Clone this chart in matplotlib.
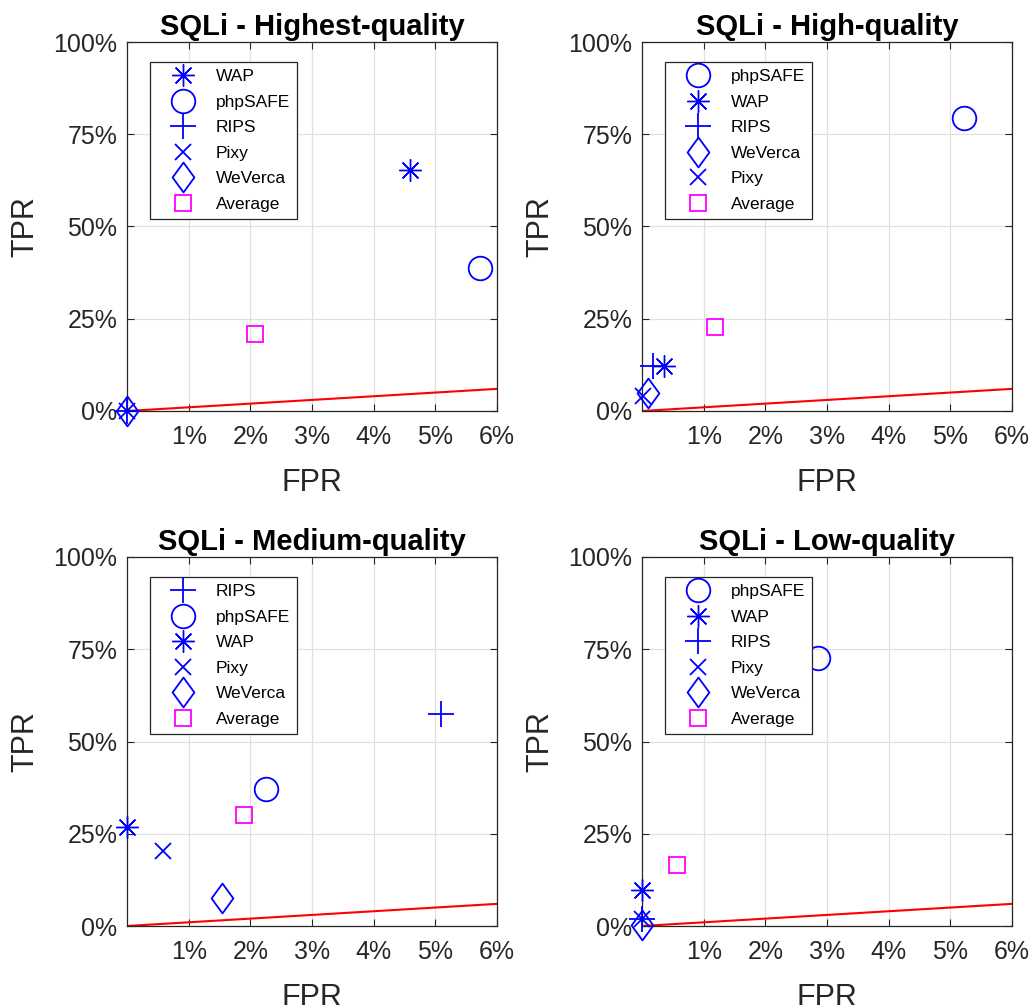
import matplotlib
matplotlib.use('Agg')
import matplotlib.pyplot as plt
from matplotlib.path import Path
import numpy as np

plt.rcParams['font.family'] = ['Liberation Sans', 'DejaVu Sans']

# values in percent
titles = ['SQLi - Highest-quality', 'SQLi - High-quality',
          'SQLi - Medium-quality', 'SQLi - Low-quality']

highest_tools = ['WAP', 'phpSAFE', 'RIPS', 'Pixy', 'WeVerca']
highest_fpr = [4.59, 5.72, 0.0, 0.0, 0.0]
highest_tpr = [65.3, 38.8, 0.0, 0.0, 0.0]
highest_avg = (2.07, 20.8)

high_tools = ['phpSAFE', 'WAP', 'RIPS', 'WeVerca', 'Pixy']
high_fpr = [5.22, 0.36, 0.18, 0.10, 0.02]
high_tpr = [79.5, 12.3, 12.3, 4.9, 4.1]
high_avg = (1.19, 22.7)

medium_tools = ['RIPS', 'phpSAFE', 'WAP', 'Pixy', 'WeVerca']
medium_fpr = [5.09, 2.25, 0.0, 0.58, 1.54]
medium_tpr = [57.5, 37.1, 26.7, 20.2, 7.6]
medium_avg = (1.90, 30.0)

low_tools = ['phpSAFE', 'WAP', 'RIPS', 'Pixy', 'WeVerca']
low_fpr = [2.85, 0.0, 0.0, 0.0, 0.0]
low_tpr = [72.5, 9.8, 2.0, 2.0, 0.3]
low_avg = (0.57, 16.6)

diag_fpr = [0.0, 6.0]
diag_tpr = [0.0, 6.0]

x_ticks = [1, 2, 3, 4, 5, 6]
y_ticks = [0, 25, 50, 75, 100]

# MATLAB-like diamond (taller than wide)
diamond = Path([(0, 1), (0.73, 0), (0, -1), (-0.73, 0), (0, 1)],
               [Path.MOVETO, Path.LINETO, Path.LINETO, Path.LINETO,
                Path.CLOSEPOLY])

marker_style = {
    'WAP': dict(marker=(8, 2, 0), markersize=16, markeredgewidth=1.0),
    'phpSAFE': dict(marker='o', markersize=17, markeredgewidth=1.3),
    'RIPS': dict(marker='+', markersize=19, markeredgewidth=1.3),
    'Pixy': dict(marker='x', markersize=11.5, markeredgewidth=1.3),
    'WeVerca': dict(marker=diamond, markersize=21.5, markeredgewidth=1.3),
}

panels = [
    (highest_tools, highest_fpr, highest_tpr, highest_avg),
    (high_tools, high_fpr, high_tpr, high_avg),
    (medium_tools, medium_fpr, medium_tpr, medium_avg),
    (low_tools, low_fpr, low_tpr, low_avg),
]

W, H = 1034, 1005
boxes = [(127, 42), (642, 42), (127, 557), (642, 557)]
ax_w, ax_h = 370, 369

fig = plt.figure(figsize=(W / 100, H / 100), dpi=100)

for (tools, fpr, tpr, avg), title, (left, top) in zip(panels, titles, boxes):
    ax = fig.add_axes([left / W, 1 - (top + ax_h) / H, ax_w / W, ax_h / H])
    ax.plot(np.array(diag_fpr) / 100, np.array(diag_tpr) / 100,
            color='red', lw=1.5, zorder=2)
    for name, x, y in zip(tools, fpr, tpr):
        st = marker_style[name]
        ax.plot([x / 100], [y / 100], linestyle='none', color='blue',
                markerfacecolor='none', markeredgecolor='blue',
                label=name, clip_on=False, zorder=3, **st)
    ax.plot([avg[0] / 100], [avg[1] / 100], linestyle='none', marker='s',
            markersize=12, markerfacecolor='none', markeredgecolor='magenta',
            markeredgewidth=1.3, label='Average', clip_on=False, zorder=3)

    ax.set_xlim(0, 0.06)
    ax.set_ylim(0, 1)
    ax.set_xticks([t / 100 for t in x_ticks])
    ax.set_xticklabels(['{}%'.format(t) for t in x_ticks])
    ax.set_yticks([t / 100 for t in y_ticks])
    ax.set_yticklabels(['{}%'.format(t) for t in y_ticks])
    ax.grid(True, color='#e0e0e0', lw=0.9)
    ax.set_axisbelow(True)
    ax.tick_params(direction='in', length=5, labelsize=18, color='#262626',
                   labelcolor='#262626', top=True, right=True)
    ax.tick_params(axis='x', pad=10)
    ax.tick_params(axis='y', pad=7)
    for sp in ax.spines.values():
        sp.set_color('#262626')
        sp.set_linewidth(0.9)
    ax.set_xlabel('FPR', fontsize=22, color='#262626', labelpad=14)
    ax.set_ylabel('TPR', fontsize=22, color='#262626', labelpad=9)
    ax.set_title(title, fontsize=21, fontweight='bold', pad=5)

    leg = ax.legend(loc='upper left', bbox_to_anchor=(0.062, 0.946),
                    borderaxespad=0, fontsize=12.5, frameon=True,
                    fancybox=False, edgecolor='#262626', framealpha=1,
                    handlelength=3.0, labelspacing=0.6, borderpad=0.4,
                    handletextpad=0.4, numpoints=1)
    leg.get_frame().set_linewidth(0.9)

fig.savefig('out.png', dpi=100)
